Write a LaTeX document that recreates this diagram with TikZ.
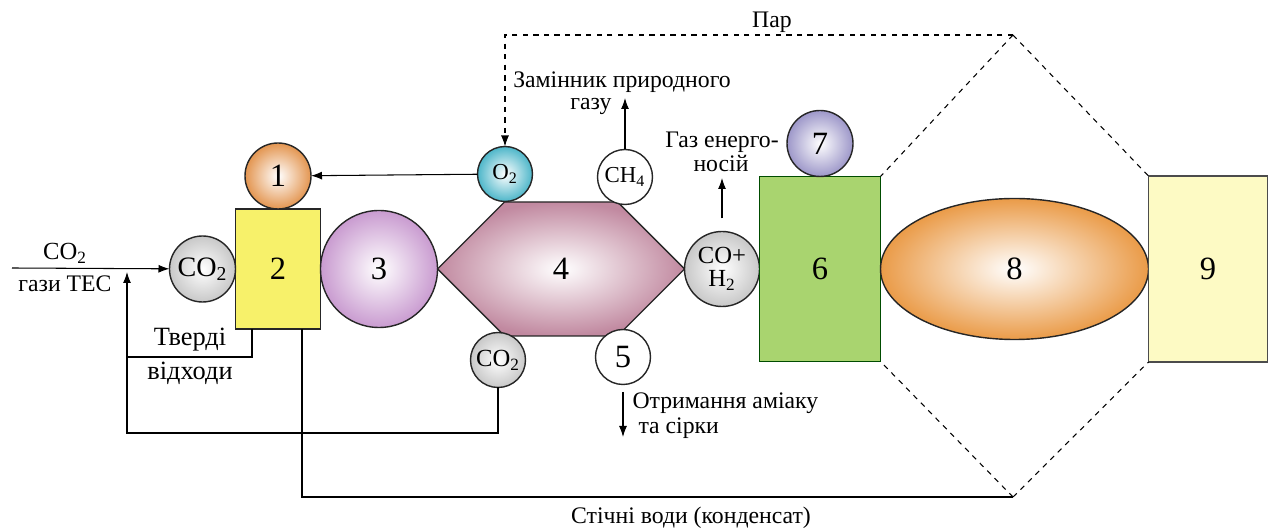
\documentclass[tikz,border=0pt]{standalone}
\usepackage{fontspec}
\setmainfont{Liberation Serif}
\usepackage{xcolor}
\usetikzlibrary{positioning,shapes.geometric,shapes.symbols,arrows.meta}
\definecolor{boxyellow}{HTML}{F7F16A}
\definecolor{boxgreen}{HTML}{A9D46F}
\definecolor{boxcream}{HTML}{FDFAC4}
\definecolor{ballorange}{HTML}{E39550}
\definecolor{ballpurple}{HTML}{C99BD0}
\definecolor{hexpink}{HTML}{C189A0}
\definecolor{ballcyan}{HTML}{4DB6C9}
\definecolor{ballgrey}{HTML}{C8C8C8}
\definecolor{ballviolet}{HTML}{9D97C9}
\definecolor{ellorange}{HTML}{EA9B48}
\tikzstyle{unit}=[
        draw = black!85,
        thick,
        inner sep = 0pt,
        outer sep = 0pt,
        font = \fontsize{18.5}{20}\selectfont
    ]
\tikzstyle{ball}=[
    unit,
    circle,
    shade,
    inner color = white
]
\tikzstyle{gas}=[
    draw = black!85,
    thick,
    circle,
    inner sep = 0pt,
    outer sep = 0pt,
    minimum size = 11mm,
    font = \fontsize{13}{13}\selectfont
]
\tikzstyle{hexa}=[
    unit,
    signal,
    signal to = east and west,
    signal pointer angle = 90,
    shade,
    inner color = white,
    outer color = hexpink
]
\tikzstyle{note}=[
    font = \fontsize{13.5}{15}\selectfont,
    inner sep = 0pt
]
\tikzstyle{flow}=[
    -{Latex[length = 2.2mm, width = 1.6mm]}
]

\begin{document}
\begin{tikzpicture}[x=0.2mm, y=-0.2mm, node distance={0pt}, semithick]
        \useasboundingbox (0,0) rectangle (1271,531);

        \node[unit, fill = boxyellow, minimum width = 17mm, minimum height = 24mm] (2) at (278,269) {2};
        \node[ball, outer color = ballorange, minimum size = 13.2mm] (1) [above = of 2] {1};
        \node[gas, shade, inner color = white, outer color = ballgrey, minimum size = 13.2mm, font = \fontsize{16}{16}\selectfont] (co2in) [left = of 2] {CO\textsubscript{2}};
        \node[ball, outer color = ballpurple, minimum size = 23.4mm] (3) [right = of 2] {3};
        \node[hexa, minimum width = 49.4mm, minimum height = 26.8mm] (4) [right = of 3] {4};
        \node[gas, shade, inner color = white, outer color = ballgrey, minimum size = 15mm, align = center, font = \fontsize{14}{13}\selectfont] (coh2) [right = of 4] {CO+\\H\textsubscript{2}};
        \node[unit, fill = boxgreen, draw = black!70!green, minimum width = 24.2mm, minimum height = 37mm] (6) [right = of coh2] {6};
        \node[ball, outer color = ballviolet, minimum size = 13.2mm] (7) [above = of 6] {7};
        \node[unit, ellipse, shade, inner color = white, outer color = ellorange, minimum width = 53.6mm, minimum height = 28.2mm] (8) [right = of 6] {8};
        \node[unit, fill = boxcream, draw = black!70, minimum width = 23.8mm, minimum height = 37.2mm] (9) [right = of 8] {9};

        \node[gas, shade, inner color = white, outer color = ballcyan] (o2) at (505,174) {O\textsubscript{2}};
        \node[gas, fill = white] (ch4) at (625,177) {CH\textsubscript{4}};
        \node[gas, shade, inner color = white, outer color = ballgrey, font = \fontsize{14}{14}\selectfont] (co2out) at (498,360) {CO\textsubscript{2}};
        \node[gas, fill = white, font = \fontsize{18.5}{20}\selectfont] (5) at (623,357) {5};

        \coordinate (src) at (12,268);
        \coordinate (up) at (127,272);
        \coordinate (loop) at (127,433);
        \coordinate (waste) at (127,357);
        \coordinate (top) at (1013,35);
        \coordinate (bot) at (1013,497);
        \coordinate (ng) at (625,98);
        \coordinate (fuel) at (720,178);
        \coordinate (amm) at (622,437);

        \draw[flow] (src) -- (co2in);
        \draw[flow] (co2out) |- (loop) -- (up);
        \draw ([xshift = -5.2mm]2.south) |- (waste);
        \draw ([xshift = 4.8mm]2.south) |- (bot);
        \draw[flow] (o2) -- (1);
        \draw[flow] (ch4) -- (ng);
        \draw[flow, shorten <= 2.6mm] (coh2.north) -- (coh2.north |- fuel);
        \draw[flow, shorten <= 1.5mm] (5.south) -- (5.south |- amm);

        \draw[dashed, flow] (top) -| (o2);
        \draw[dashed] (top) -- (6.north east);
        \draw[dashed] (top) -- (9.north west);
        \draw[dashed] (bot) -- (6.south east);
        \draw[dashed] (bot) -- (9.south west);

        \node[note, font = \fontsize{14}{15}\selectfont] (co2lbl) at (65,253) {CO\textsubscript{2}};
        \node[note] (tec) at (65,284) {гази ТЕС};
        \node[note, font = \fontsize{15}{16}\selectfont] (tv1) at (190,340) {Тверді};
        \node[note, font = \fontsize{15}{16}\selectfont] (tv2) at (190,373) {відходи};
        \node[note] (par) at (772,22) {Пар};
        \node[note] (zam) at (622,82) {Замінник природного};
        \node[note, anchor = east] (gazu) at (612,106) {газу};
        \node[note] (gaz1) at (722,142) {Газ енерго-};
        \node[note] (gaz2) at (721,164) {носій};
        \node[note, anchor = west] (otr1) at (632,403) {Отримання аміаку};
        \node[note, anchor = west] (otr2) at (638,428) {та сірки};
        \node[note] (stich) at (691,518) {Стічні води (конденсат)};

    \end{tikzpicture}
\end{document}
